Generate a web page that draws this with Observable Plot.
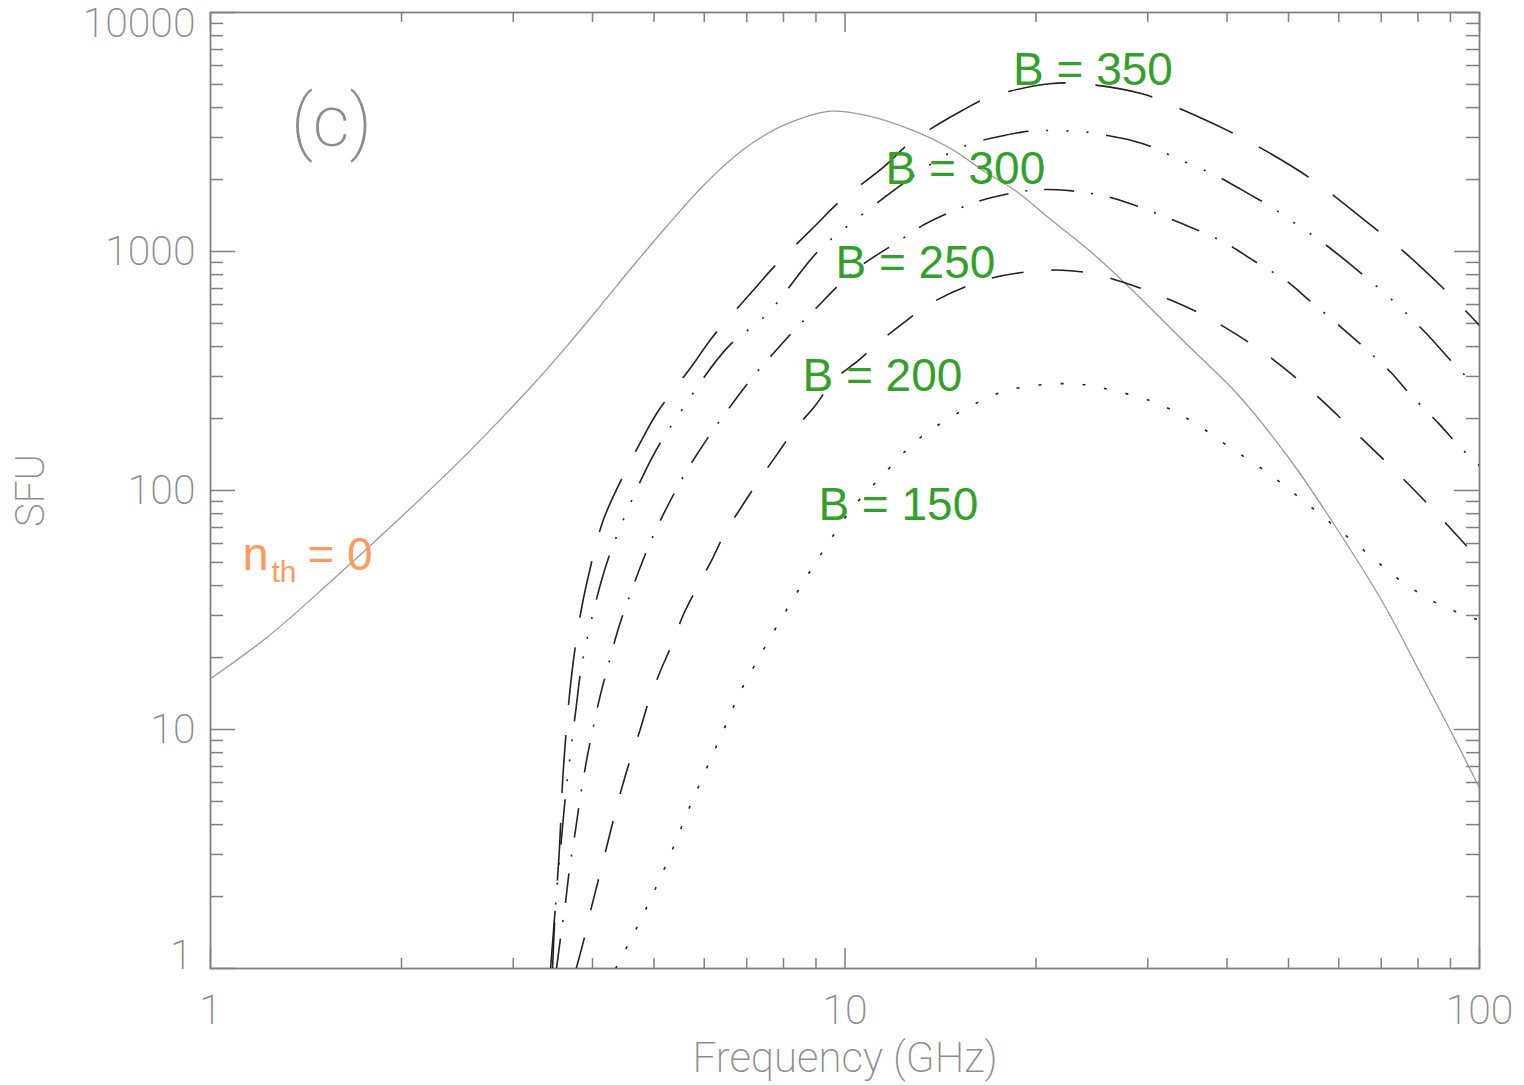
<!DOCTYPE html>
<html>
<head>
<meta charset="utf-8">
<script src="https://cdn.jsdelivr.net/npm/d3@7"></script>
<script src="https://cdn.jsdelivr.net/npm/@observablehq/plot@0.6"></script>
<style>
  html, body { margin: 0; padding: 0; background: #fff; }
  svg { display: block; }
</style>
</head>
<body>
<div id="chart"></div>
<script>
// ---------- data ----------
// n_th = 0 (solid grey curve)
const fSolid = [1.0, 1.23, 1.56, 1.99, 2.54, 3.23, 3.65, 4.12, 4.64, 5.25, 5.92, 6.67, 7.55, 8.53, 9.49, 10.8, 13.0, 14.7, 16.5, 18.7, 21.1, 25.3, 35.4, 41.5, 50.4, 58.9, 70.6, 79.8, 90.0, 100];
const vSolid = [16.3, 24.4, 42.4, 76.7, 143, 279, 404, 594, 874, 1285, 1835, 2474, 3117, 3602, 3864, 3710, 3157, 2690, 2183, 1771, 1361, 917, 385, 254, 133.5, 72.6, 33.6, 18.2, 9.9, 5.7];

// B = 150 (dotted)
const f150 = [4.35, 4.69, 5.01, 5.34, 5.66, 6.03, 6.43, 6.86, 7.39, 7.99, 8.66, 9.43, 10.3, 11.4, 12.8, 13.6, 15.6, 18.0, 22.7, 26.5, 31.1, 35.4, 40.5, 46.3, 52.2, 58.9, 66.6, 75.1, 85.9, 100];
const v150 = [1.0, 1.47, 2.12, 3.12, 4.58, 6.74, 9.9, 14.6, 20.9, 30.0, 42.7, 60.8, 85.2, 114, 157, 178, 222, 262, 280, 262, 231, 193, 151, 119, 92.6, 71.4, 54.5, 42.0, 33.6, 28.6];

// B = 200 (dashed)
const f200 = [3.77, 3.88, 3.98, 4.09, 4.20, 4.32, 4.44, 4.59, 4.75, 4.91, 5.11, 5.34, 5.57, 5.85, 6.18, 6.48, 6.89, 7.31, 7.82, 8.30, 8.98, 9.60, 10.5, 11.4, 12.5, 13.6, 16.5, 19.6, 22.0, 24.5, 29.0, 36.3, 45.2, 54.2, 63.3, 74.3, 86.8, 100];
const v200 = [1.0, 1.33, 1.78, 2.37, 3.14, 4.23, 5.59, 7.54, 9.90, 13.2, 17.4, 22.8, 30.5, 39.4, 51.8, 66.9, 86.5, 110, 142, 178, 227, 289, 350, 424, 514, 604, 756, 825, 835, 809, 707, 550, 385, 262, 178, 118, 77.1, 51];

// B = 250 (dash-dot)
const f250 = [3.51, 3.56, 3.63, 3.68, 3.76, 3.82, 3.91, 4.00, 4.12, 4.24, 4.40, 4.56, 4.79, 5.00, 5.34, 5.61, 6.06, 6.44, 7.05, 7.58, 8.31, 8.98, 9.95, 10.7, 12.2, 13.4, 15.3, 17.1, 19.5, 21.6, 25.0, 27.8, 31.9, 35.2, 39.9, 44.0, 49.5, 53.8, 60.1, 65.3, 72.4, 77.8, 86.2, 92.7, 100];
const v250 = [1.0, 1.33, 1.93, 2.61, 3.78, 5.05, 7.3, 9.9, 14.1, 18.8, 26.8, 35.2, 50.1, 65.9, 93.7, 119, 164, 206, 284, 356, 467, 575, 756, 888, 1112, 1306, 1532, 1687, 1800, 1812, 1732, 1604, 1400, 1258, 1080, 917, 756, 628, 490, 404, 313, 252, 191, 154, 127];

// B = 300 (dash-dot-dot-dot)
const f300 = [3.46, 3.50, 3.58, 3.63, 3.77, 3.85, 4.14, 4.37, 4.97, 5.44, 6.52, 7.54, 9.04, 10.2, 13.2, 14.7, 16.1, 17.3, 19.0, 20.5, 24.1, 25.9, 28.3, 30.7, 32.6, 37.9, 40.2, 43.3, 46.9, 49.5, 56.8, 72.0, 81.6, 95.7, 100];
const v300 = [1.0, 1.87, 3.67, 5.40, 12.4, 18.8, 42.7, 64.8, 138, 203, 395, 548, 993, 1306, 2183, 2604, 2870, 3008, 3159, 3207, 3155, 3055, 2912, 2718, 2521, 2114, 1950, 1742, 1542, 1393, 1083, 644, 467, 297, 275];

// B = 350 (long dash)
const f350 = [3.435, 3.54, 3.60, 3.71, 3.83, 3.92, 4.14, 4.32, 4.79, 5.06, 5.78, 6.18, 7.14, 7.72, 9.04, 9.78, 11.5, 12.7, 15.3, 16.9, 21.0, 23.7, 29.4, 32.8, 40.2, 44.5, 53.8, 58.9, 70.1, 76.7, 90.6, 100];
const v350 = [1.0, 2.88, 6.95, 17.1, 30.5, 41.3, 72.6, 95.3, 164, 212, 341, 438, 680, 860, 1306, 1608, 2253, 2866, 3890, 4424, 5033, 5033, 4571, 4083, 3197, 2777, 2047, 1715, 1186, 977, 644, 490];

// axis ticks and labels
const xMajor = [1, 10, 100];
const xMinor = [2, 3, 4, 5, 6, 7, 8, 9, 20, 30, 40, 50, 60, 70, 80, 90];
const yMajor = [1, 10, 100, 1000, 10000];
const yMinor = [2, 3, 4, 5, 6, 7, 8, 9, 20, 30, 40, 50, 60, 70, 80, 90, 200, 300, 400, 500, 600, 700, 800, 900, 2000, 3000, 4000, 5000, 6000, 7000, 8000, 9000];
const xTitle = "Frequency (GHz)";
const yTitle = "SFU";
const panelTag = "(c)";

// curve labels (text, frequency, SFU at baseline-left)
const labelText = ["B = 350", "B = 300", "B = 250", "B = 200", "B = 150"];
const labelF = [18.4, 11.58, 9.66, 8.57, 9.08];
const labelV = [4950, 1907, 771, 262, 75.6];
const nthF = 1.123, nthV = 46.3;

// ---------- build ----------
const W = 1524, H = 1085, mL = 210, mR = 45, mT = 12, mB = 117;
const iW = W - mL - mR, iH = H - mT - mB;
const axisColor = "#7f7f7f";
const labColor = "#8c8c8c";
const thinFont = "Roboto, 'DejaVu Sans', sans-serif";
const thinWeight = 200;
const labFont = "'Liberation Sans', Arial, sans-serif";
const green = "#34a02c";
const orange = "#fc9a60";

const zip = (fs, vs) => fs.map((f, i) => ({f, v: vs[i]}));
const series = [
  {rows: zip(fSolid, vSolid), stroke: "#9a9a9a", width: 1.3, dash: null},
  {rows: zip(f150, v150), stroke: "#222", width: 1.6, dash: "3,19"},
  {rows: zip(f200, v200), stroke: "#222", width: 1.6, dash: "32,28"},
  {rows: zip(f250, v250), stroke: "#222", width: 1.6, dash: "30,17,2,17"},
  {rows: zip(f300, v300), stroke: "#222", width: 1.6, dash: "46,18,2,18,2,18,2,18"},
  {rows: zip(f350, v350), stroke: "#222", width: 1.6, dash: "58,30"}
];
const labels = labelText.map((t, i) => ({t, f: labelF[i], v: labelV[i]}));

const tickStyle = {stroke: axisColor, strokeWidth: 1.5};
const thin = {fontWeight: thinWeight, fontFamily: thinFont, fill: labColor, lineAnchor: "middle"};

const chart = Plot.plot({
  width: W, height: H,
  marginLeft: mL, marginRight: mR, marginTop: mT, marginBottom: mB,
  x: {type: "log", domain: [1, 100], axis: null},
  y: {type: "log", domain: [1, 10000], axis: null},
  style: {background: "#fff", overflow: "visible"},
  marks: [
    // ticks (inward, mirrored on all sides)
    Plot.tickX(xMajor, {x: d => d, insetTop: iH - 20, ...tickStyle}),
    Plot.tickX(xMajor, {x: d => d, insetBottom: iH - 20, ...tickStyle}),
    Plot.tickX(xMinor, {x: d => d, insetTop: iH - 10, ...tickStyle}),
    Plot.tickX(xMinor, {x: d => d, insetBottom: iH - 10, ...tickStyle}),
    Plot.tickY(yMajor, {y: d => d, insetRight: iW - 25, ...tickStyle}),
    Plot.tickY(yMajor, {y: d => d, insetLeft: iW - 25, ...tickStyle}),
    Plot.tickY(yMinor, {y: d => d, insetRight: iW - 13, ...tickStyle}),
    Plot.tickY(yMinor, {y: d => d, insetLeft: iW - 13, ...tickStyle}),
    Plot.frame({stroke: axisColor, strokeWidth: 1.8}),
    // curves
    ...series.map(s => Plot.line(s.rows, {
      x: "f", y: "v", curve: "catmull-rom", clip: true,
      stroke: s.stroke, strokeWidth: s.width,
      strokeDasharray: s.dash, strokeLinecap: "butt"
    })),
    // tick labels
    Plot.text(xMajor, {x: d => d, text: d => String(d), frameAnchor: "bottom", textAnchor: "middle", dy: 42,
      fontSize: 41, ...thin}),
    Plot.text(yMajor.filter(d => d > 1 && d < 10000), {y: d => d, text: d => String(d), frameAnchor: "left",
      textAnchor: "end", dx: -15, fontSize: 41, ...thin}),
    Plot.text(yMajor.filter(d => d === 10000), {y: d => d, text: d => String(d), frameAnchor: "left",
      textAnchor: "end", dx: -15, dy: 11, fontSize: 41, ...thin}),
    Plot.text(yMajor.filter(d => d === 1), {y: d => d, text: d => String(d), frameAnchor: "left",
      textAnchor: "end", dx: -18, dy: -13, fontSize: 41, ...thin}),
    // axis titles
    Plot.text([xTitle], {frameAnchor: "bottom", textAnchor: "middle", dy: 90, fontSize: 42, letterSpacing: 0.5, ...thin}),
    Plot.text([yTitle], {frameAnchor: "left", textAnchor: "middle", dx: -179, rotate: -90, fontSize: 40, letterSpacing: 1, ...thin}),
    Plot.text([panelTag], {frameAnchor: "top-left", textAnchor: "middle", dx: 121, dy: 110, fontSize: 72, letterSpacing: 6, ...thin}),
    // curve labels
    Plot.text(labels, {x: "f", y: "v", text: "t", textAnchor: "start", lineAnchor: "bottom",
      fontSize: 46, fontFamily: labFont, fill: green}),
    Plot.text([nthF], {x: d => d, y: () => nthV, text: () => "n", textAnchor: "start", lineAnchor: "bottom",
      fontSize: 47, fontFamily: labFont, fill: orange}),
    Plot.text([nthF], {x: d => d, y: () => nthV, text: () => "th", textAnchor: "start", lineAnchor: "bottom",
      dx: 29, dy: 12, fontSize: 30, fontFamily: labFont, fill: orange}),
    Plot.text([nthF], {x: d => d, y: () => nthV, text: () => "= 0", textAnchor: "start", lineAnchor: "bottom",
      dx: 65, fontSize: 46, fontFamily: labFont, fill: orange})
  ]
});
document.getElementById("chart").appendChild(chart);
</script>
</body>
</html>
